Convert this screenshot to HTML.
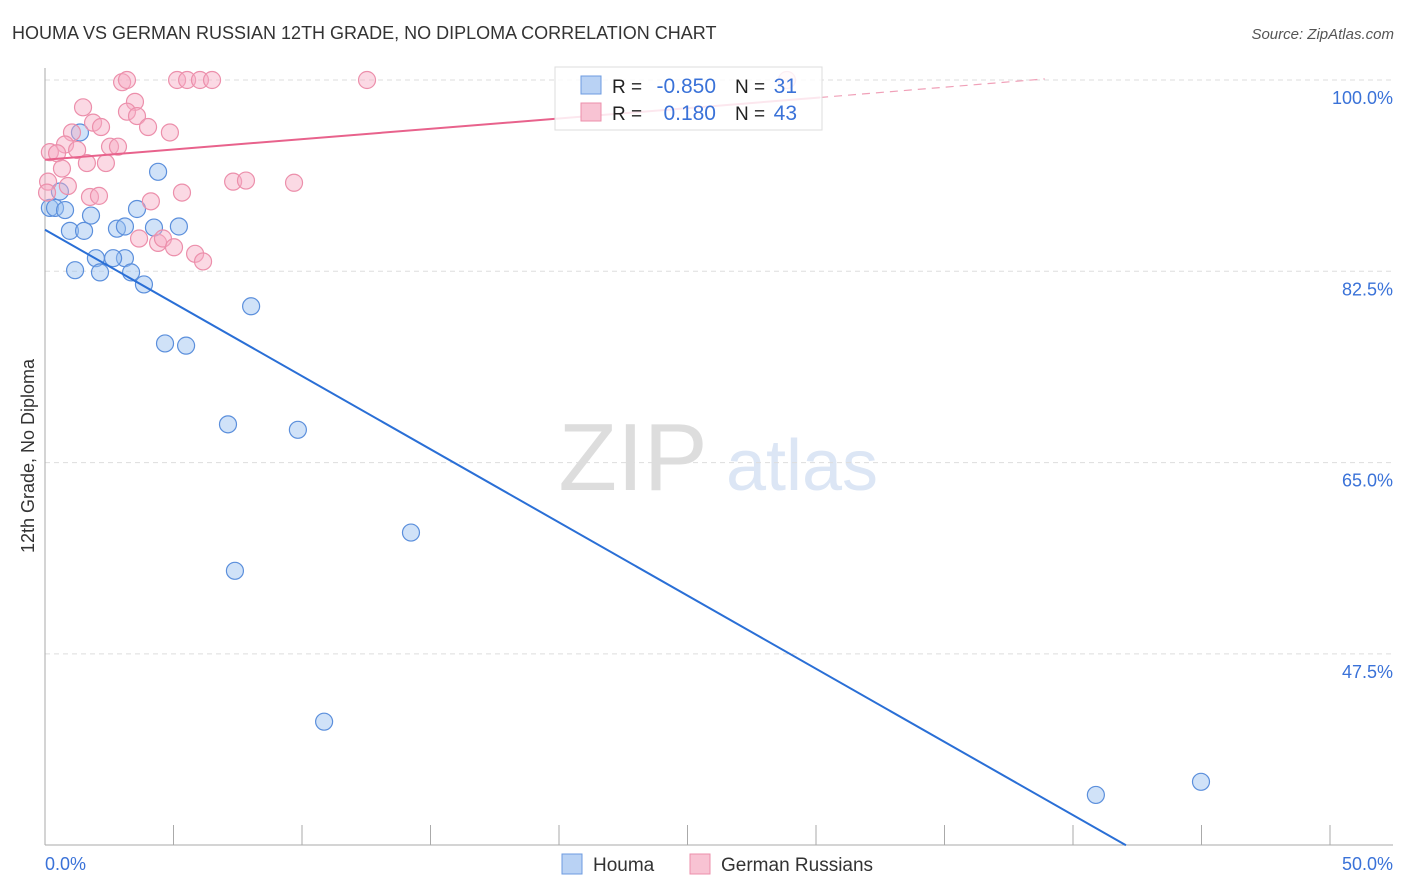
<!DOCTYPE html>
<html><head><meta charset="utf-8">
<style>
body{margin:0;background:#fff;font-family:"Liberation Sans",sans-serif;}
#wrap{position:relative;width:1406px;height:892px;overflow:hidden;}
svg text{font-family:"Liberation Sans",sans-serif;}
</style></head>
<body>
<div id="wrap">
<svg id="chart" width="1406" height="892"></svg>
</div>
<script>
const houmaX=[0.19,0.39,0.58,0.78,0.97,1.52,1.79,1.17,1.98,2.14,2.80,3.11,3.11,2.65,3.35,3.85,3.58,4.24,4.40,5.21,4.67,5.49,8.02,7.12,9.84,7.39,14.24,10.86,40.89,44.98,1.36];
const houmaY=[88.3,88.3,89.8,88.1,86.2,86.2,87.6,82.6,83.7,82.4,86.4,86.6,83.7,83.7,82.4,81.3,88.2,86.5,91.6,86.6,75.9,75.7,79.3,68.5,68.0,55.1,58.6,41.3,34.6,35.8,95.2];
const grX=[3.00,3.19,5.14,5.53,6.03,6.50,12.53,28.87,1.48,3.50,3.19,3.58,4.01,4.86,1.87,2.18,1.05,0.78,1.25,0.19,0.47,2.53,2.84,1.63,2.37,0.66,0.12,0.89,7.32,7.82,9.69,1.75,2.10,5.33,4.12,0.08,3.66,4.40,4.59,5.02,5.84,6.15];
const grY=[99.8,100,100,100,100,100,100,100,97.5,98.0,97.1,96.7,95.7,95.2,96.1,95.7,95.2,94.1,93.6,93.4,93.3,93.9,93.9,92.4,92.4,91.9,90.7,90.3,90.7,90.8,90.6,89.3,89.4,89.7,88.9,89.7,85.5,85.1,85.5,84.7,84.1,83.4];
const houmaTrend=[[0,86.3],[42.06,30]];
const grTrend=[[0,92.7],[30.16,98.4],[38.9,100.1]];
const yTicks=[100,82.5,65,47.5];
const yTickLabels=["100.0%","82.5%","65.0%","47.5%"];
const xTicks=[0,5,10,15,20,25,30,35,40,45,50];

const NS="http://www.w3.org/2000/svg";
const svg=document.getElementById('chart');
const X=v=>45+v/50*1285;
const Y=v=>80+(100-v)/17.5*191.3;
function el(t,a,p){const e=document.createElementNS(NS,t);for(const k in a)e.setAttribute(k,a[k]);(p||svg).appendChild(e);return e;}
function txt(s,a){const e=el('text',a);e.textContent=s;return e;}

const title=txt("HOUMA VS GERMAN RUSSIAN 12TH GRADE, NO DIPLOMA CORRELATION CHART",{x:12,y:39,'font-size':18,fill:'#333'});

const src=txt("Source: ZipAtlas.com",{x:1394,y:39,'font-size':15,fill:'#555','text-anchor':'end','font-style':'italic'});


const wm=txt("ZIP",{x:633,y:490,'font-size':96,fill:'#ddd','text-anchor':'middle','font-family':'Liberation Serif'});

const wm2=txt("atlas",{x:802,y:490,'font-size':72,fill:'#dce6f5','text-anchor':'middle'});


yTicks.forEach((v,i)=>{
 const g=el('line',{x1:45,x2:1393,y1:Y(v),y2:Y(v),stroke:'#ddd','stroke-dasharray':'5,4'});
 
 const t=txt(yTickLabels[i],{x:1393,y:Y(v)+24,'font-size':18,fill:'#3a72d8','text-anchor':'end'});
 
});
const ya=el('line',{x1:45,x2:45,y1:68,y2:845,stroke:'#aaa'});

const xa=el('line',{x1:45,x2:1393,y1:845,y2:845,stroke:'#aaa'});

xTicks.forEach(v=>{
 const t=el('line',{x1:X(v),x2:X(v),y1:825,y2:845,stroke:'#aaa'});
 
});
const xl0=txt("0.0%",{x:45,y:870,'font-size':18,fill:'#3a72d8'});

const xl1=txt("50.0%",{x:1393,y:870,'font-size':18,fill:'#3a72d8','text-anchor':'end'});

const yt=txt("12th Grade, No Diploma",{x:34,y:456,'font-size':18,fill:'#333','text-anchor':'middle',transform:'rotate(-90 34 456)'});


houmaX.forEach((v,i)=>{
 const c=el('circle',{cx:X(v),cy:Y(houmaY[i]),r:8.5,fill:'rgba(150,190,240,0.45)',stroke:'#5b8fdc','stroke-width':1.2});
 
});
grX.forEach((v,i)=>{
 const c=el('circle',{cx:X(v),cy:Y(grY[i]),r:8.5,fill:'rgba(246,170,195,0.45)',stroke:'#ec8fab','stroke-width':1.2});
 
});
const bl=el('line',{x1:X(houmaTrend[0][0]),y1:Y(houmaTrend[0][1]),x2:X(houmaTrend[1][0]),y2:Y(houmaTrend[1][1]),stroke:'#2a6fd6','stroke-width':2});

const pl=el('line',{x1:X(grTrend[0][0]),y1:Y(grTrend[0][1]),x2:X(grTrend[1][0]),y2:Y(grTrend[1][1]),stroke:'#e8628c','stroke-width':2});

const pd=el('line',{x1:X(grTrend[1][0]),y1:Y(grTrend[1][1]),x2:X(grTrend[2][0]),y2:Y(grTrend[2][1]),stroke:'#f0a0b8','stroke-width':1.2,'stroke-dasharray':'8,6'});


const lg=el('g',{});
el('rect',{x:555,y:67,width:267,height:63,fill:'rgba(255,255,255,0.85)',stroke:'#ddd'},lg);
el('rect',{x:581,y:76,width:20,height:18,fill:'#b9d2f4',stroke:'#6d9be0'},lg);
el('rect',{x:581,y:103,width:20,height:18,fill:'#f8c3d3',stroke:'#ec8fab'},lg);
[[93,"R = ","-0.850","31"],[120,"R = ","0.180","43"]].forEach((r,i)=>{
 let t=el('text',{x:612,y:r[0],'font-size':19,fill:'#222'},lg);t.textContent=r[1];
 t=el('text',{x:716,y:r[0],'font-size':21,fill:'#3a72d8','text-anchor':'end'},lg);t.textContent=r[2];
 t=el('text',{x:735,y:r[0],'font-size':19,fill:'#222'},lg);t.textContent="N = ";
 t=el('text',{x:797,y:r[0],'font-size':21,fill:'#3a72d8','text-anchor':'end'},lg);t.textContent=r[3];
});

const bl1=el('rect',{x:562,y:854,width:20,height:20,fill:'#b9d2f4',stroke:'#6d9be0'});

const bt1=txt("Houma",{x:593,y:871,'font-size':19,fill:'#333'});

const bl2=el('rect',{x:690,y:854,width:20,height:20,fill:'#f8c3d3',stroke:'#ec8fab'});

const bt2=txt("German Russians",{x:721,y:871,'font-size':19,fill:'#333'});

</script>
</body></html>
